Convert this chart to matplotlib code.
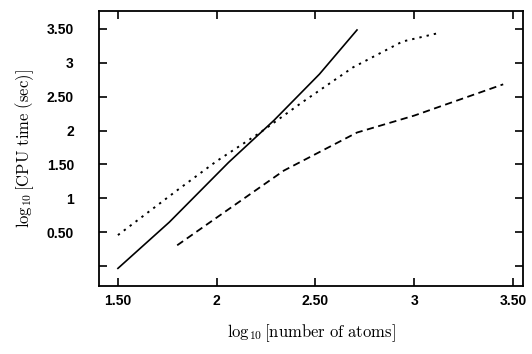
import matplotlib
matplotlib.use("Agg")
import matplotlib.pyplot as plt

plt.rcParams['mathtext.fontset'] = 'cm'

# === data (log10 atoms vs log10 CPU seconds) ===
solid_x = [1.50, 1.76, 2.06, 2.29, 2.52, 2.71]
solid_y = [-0.03, 0.65, 1.53, 2.15, 2.83, 3.48]

dotted_x = [1.50, 1.80, 2.00, 2.22, 2.43, 2.69, 2.94, 3.13]
dotted_y = [0.46, 1.12, 1.55, 1.97, 2.41, 2.93, 3.31, 3.44]

dashed_x = [1.80, 2.05, 2.34, 2.71, 3.00, 3.45]
dashed_y = [0.31, 0.82, 1.41, 1.97, 2.22, 2.68]

x_ticks = [1.5, 2, 2.5, 3, 3.5]
x_ticklabels = ["1.50", "2", "2.50", "3", "3.50"]
y_ticks = [0, 0.5, 1, 1.5, 2, 2.5, 3, 3.5]
y_ticklabels = ["", "0.50", "1", "1.50", "2", "2.50", "3", "3.50"]

fig = plt.figure(figsize=(5.32, 3.54), dpi=100)
ax = fig.add_axes([0.186, 0.192, 0.797, 0.777])

ax.plot(solid_x, solid_y, color="black", linewidth=1.2, linestyle="-")
ax.plot(dotted_x, dotted_y, color="black", linewidth=1.4, linestyle=(0, (1.2, 2.6)))
ax.plot(dashed_x, dashed_y, color="black", linewidth=1.3, linestyle=(0, (4, 2.5)))

ax.set_xlim(1.404, 3.55)
ax.set_ylim(-0.29, 3.76)

ax.set_xticks(x_ticks)
ax.set_xticklabels(x_ticklabels)
ax.set_yticks(y_ticks)
ax.set_yticklabels(y_ticklabels)

ax.tick_params(direction="in", length=6, width=1.2, top=True, right=True,
               labelsize=10)
ax.tick_params(axis="x", pad=6)
ax.tick_params(axis="y", pad=18)
for lbl in ax.get_xticklabels() + ax.get_yticklabels():
    lbl.set_fontweight("bold")
    lbl.set_family("Liberation Sans")

for sp in ax.spines.values():
    sp.set_linewidth(1.3)

ax.set_xlabel(r"$\mathrm{log}_{10}\,[\mathrm{number\ of\ atoms}]$", fontsize=12, labelpad=10)
ax.set_ylabel(r"$\mathrm{log}_{10}\,[\mathrm{CPU\ time\ (sec)}]$", fontsize=12, labelpad=8)

fig.savefig("out.png", dpi=100)
